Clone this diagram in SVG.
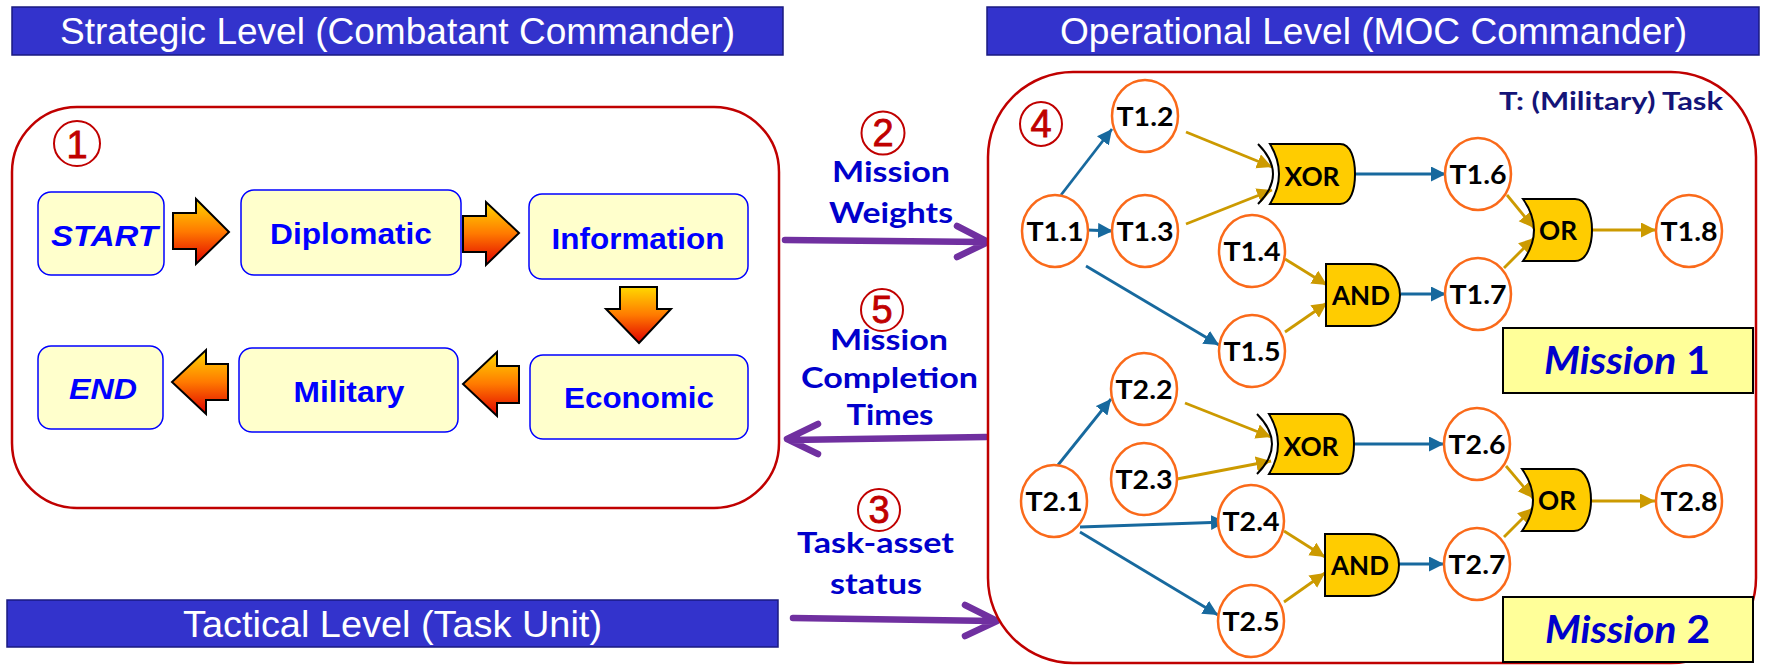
<svg xmlns="http://www.w3.org/2000/svg" width="1769" height="665" viewBox="0 0 1769 665">
  <style>
    .hdr { fill: #3333CC; stroke: #1A1A80; stroke-width: 1.5; }
    .hdr-t { font-family: "Liberation Sans", Arial, sans-serif; font-size: 37px; fill: #FFFFFF; }
    .frame { fill: #FFFFFF; stroke: #C00000; stroke-width: 2.5; }
    .step { fill: #FFFFCC; stroke: #0000FF; stroke-width: 1.5; }
    .step-t { font-family: "Liberation Sans", Arial, sans-serif; font-size: 30px; font-weight: bold; fill: #0000FF; text-anchor: middle; }
    .flow { fill: url(#flowGrad); stroke: #000000; stroke-width: 2; stroke-linejoin: miter; }
    .num-c { fill: none; stroke: #C00000; stroke-width: 2; }
    .num-t { font-family: "Liberation Sans", Arial, sans-serif; font-size: 38px; fill: #C00000; stroke: #C00000; stroke-width: 0.8; text-anchor: middle; }
    .lbl { font-family: Lato, "Open Sans", sans-serif; font-size: 28px; font-weight: bold; fill: #0000CC; text-anchor: middle; }
    .xfer { fill: none; stroke: #7030A0; stroke-width: 6.5; stroke-linecap: round; stroke-linejoin: round; }
    .task { fill: #FFFFFF; stroke: #FA6A1A; stroke-width: 2.5; }
    .task-t { font-family: Lato, "Open Sans", sans-serif; font-size: 26px; font-weight: bold; fill: #000000; text-anchor: middle; }
    .gate { fill: #FFCC00; stroke: #000000; stroke-width: 2; }
    .gate-t { font-family: Lato, "Open Sans", sans-serif; font-size: 27px; font-weight: bold; fill: #000000; text-anchor: middle; }
    .seq { stroke: #17699E; stroke-width: 2.8; fill: none; marker-end: url(#headBlue); }
    .dep { stroke: #CC9A00; stroke-width: 2.8; fill: none; marker-end: url(#headGold); }
    .mbox { fill: #FFFF99; stroke: #000000; stroke-width: 2; }
    .mbox-t { font-family: Lato, "Open Sans", sans-serif; font-size: 38px; font-weight: bold; fill: #0000CC; }
  </style>
  <defs>
    <linearGradient id="flowGrad" x1="0" y1="0" x2="0" y2="1">
      <stop offset="0" stop-color="#FFD800"/>
      <stop offset="0.5" stop-color="#FF7A00"/>
      <stop offset="1" stop-color="#E00000"/>
    </linearGradient>
    <marker id="headBlue" markerUnits="userSpaceOnUse" markerWidth="16" markerHeight="16" refX="15" refY="7.5" orient="auto">
      <path d="M0,0 L15,7.5 L0,15 Z" fill="#17699E"/>
    </marker>
    <marker id="headGold" markerUnits="userSpaceOnUse" markerWidth="16" markerHeight="16" refX="15" refY="7.5" orient="auto">
      <path d="M0,0 L15,7.5 L0,15 Z" fill="#CC9A00"/>
    </marker>
    <!-- gate outlines, origin at top-left of the body -->
    <g id="xorGate">
      <path class="gate" d="M12,0 L82,0 C93,0 97,15 97,30 C97,45 93,60 82,60 L12,60 Q30,30 12,0 Z"/>
      <path d="M0,0 Q30,30 0,60" fill="none" stroke="#000000" stroke-width="2"/>
    </g>
    <path id="orGate" class="gate" d="M0,0 L52,0 C64,0 69,16 69,31 C69,46 64,62 52,62 L0,62 Q22,31 0,0 Z"/>
    <path id="andGate" class="gate" d="M0,0 L44,0 A30,31 0 0 1 44,62 L0,62 Z"/>
  </defs>

  <rect width="1769" height="665" fill="#FFFFFF"/>

  <!-- level banners -->
  <g id="banner-strategic">
    <rect class="hdr" x="12" y="7" width="771" height="48"/>
    <text class="hdr-t" x="60" y="44" textLength="675" lengthAdjust="spacingAndGlyphs">Strategic Level (Combatant Commander)</text>
  </g>
  <g id="banner-operational">
    <rect class="hdr" x="987" y="7" width="772" height="48"/>
    <text class="hdr-t" x="1060" y="44" textLength="627" lengthAdjust="spacingAndGlyphs">Operational Level (MOC Commander)</text>
  </g>
  <g id="banner-tactical">
    <rect class="hdr" x="7" y="600" width="771" height="47"/>
    <text class="hdr-t" x="183" y="637" textLength="419" lengthAdjust="spacingAndGlyphs">Tactical Level (Task Unit)</text>
  </g>

  <!-- strategic sequence -->
  <g id="strategic-frame">
    <rect class="frame" x="12" y="107" width="767" height="401" rx="65" ry="65"/>
    <ellipse class="num-c" cx="77" cy="143.5" rx="23" ry="22.5"/>
    <text class="num-t" x="77" y="158" font-size="41">1</text>
  </g>

  <g id="step-start">
    <rect class="step" x="38" y="192" width="126" height="83" rx="13"/>
    <text class="step-t" x="104.5" y="246" font-style="italic" textLength="107" lengthAdjust="spacingAndGlyphs">START</text>
  </g>
  <g id="step-diplomatic">
    <rect class="step" x="241" y="190" width="220" height="85" rx="13"/>
    <text class="step-t" x="351" y="244" textLength="162" lengthAdjust="spacingAndGlyphs">Diplomatic</text>
  </g>
  <g id="step-information">
    <rect class="step" x="529" y="194" width="219" height="85" rx="13"/>
    <text class="step-t" x="638" y="249" textLength="173" lengthAdjust="spacingAndGlyphs">Information</text>
  </g>
  <g id="step-economic">
    <rect class="step" x="530" y="355" width="218" height="84" rx="13"/>
    <text class="step-t" x="639" y="408" textLength="150" lengthAdjust="spacingAndGlyphs">Economic</text>
  </g>
  <g id="step-military">
    <rect class="step" x="239" y="348" width="219" height="84" rx="13"/>
    <text class="step-t" x="349" y="402" textLength="111" lengthAdjust="spacingAndGlyphs">Military</text>
  </g>
  <g id="step-end">
    <rect class="step" x="38" y="346" width="125" height="83" rx="13"/>
    <text class="step-t" x="103" y="399" font-style="italic" textLength="68" lengthAdjust="spacingAndGlyphs">END</text>
  </g>

  <!-- block arrows between the steps -->
  <g id="step-flow">
    <path class="flow" d="M173,213 L196,213 L196,199 L229,232 L196,264 L196,249 L173,249 Z"/>
    <path class="flow" d="M463,216 L486,216 L486,202 L519,233 L486,265 L486,252 L463,252 Z"/>
    <path class="flow" d="M620,287 L657,287 L657,309 L671,309 L639,343 L606,309 L620,309 Z"/>
    <path class="flow" d="M519,366 L497,366 L497,352 L463,384 L497,416 L497,403 L519,403 Z"/>
    <path class="flow" d="M228,364 L206,364 L206,350 L172,382 L206,414 L206,400 L228,400 Z"/>
  </g>

  <!-- exchanges between levels -->
  <g id="exchanges">
    <path class="xfer" d="M785,240 L985,242 M957,226 L988,242 L957,257"/>
    <path class="xfer" d="M986,437 L790,440 M818,424 L787,439 L818,454"/>
    <path class="xfer" d="M793,618 L994,621 M965,605 L997,621 L965,636"/>
  </g>
  <g id="label-weights">
    <circle class="num-c" cx="883" cy="133" r="21.5"/>
    <text class="num-t" x="883" y="146">2</text>
    <text class="lbl" x="891" y="182" textLength="118" lengthAdjust="spacingAndGlyphs">Mission</text>
    <text class="lbl" x="891" y="223" textLength="124" lengthAdjust="spacingAndGlyphs">Weights</text>
  </g>
  <g id="label-completion">
    <circle class="num-c" cx="882" cy="310" r="21"/>
    <text class="num-t" x="882" y="323">5</text>
    <text class="lbl" x="889" y="350" textLength="118" lengthAdjust="spacingAndGlyphs">Mission</text>
    <text class="lbl" x="889.5" y="388" textLength="177" lengthAdjust="spacingAndGlyphs">Completion</text>
    <text class="lbl" x="890" y="425" textLength="87" lengthAdjust="spacingAndGlyphs">Times</text>
  </g>
  <g id="label-status">
    <circle class="num-c" cx="879" cy="510" r="21"/>
    <text class="num-t" x="879" y="523">3</text>
    <text class="lbl" x="875.5" y="552.5" textLength="157" lengthAdjust="spacingAndGlyphs">Task-asset</text>
    <text class="lbl" x="876" y="593.5" textLength="92" lengthAdjust="spacingAndGlyphs">status</text>
  </g>

  <!-- operational mission graphs -->
  <g id="operational-frame">
    <rect class="frame" x="988" y="72" width="768" height="591" rx="85" ry="85"/>
    <ellipse class="num-c" cx="1041" cy="124" rx="21" ry="22"/>
    <text class="num-t" x="1041" y="137">4</text>
    <text x="1499" y="110" font-family="Lato, 'Open Sans', sans-serif" font-size="25" font-weight="bold" fill="#141478" textLength="224" lengthAdjust="spacingAndGlyphs">T: (Military) Task</text>
  </g>

  <g id="connectors">
    <!-- mission 1 -->
    <line class="seq" x1="1061" y1="195" x2="1112" y2="129"/>
    <line class="seq" x1="1087" y1="230" x2="1113" y2="231"/>
    <line class="seq" x1="1086" y1="266" x2="1219" y2="345"/>
    <line class="seq" x1="1340" y1="174" x2="1446" y2="174"/>
    <line class="seq" x1="1401" y1="294" x2="1446" y2="294"/>
    <line class="dep" x1="1186" y1="132" x2="1272" y2="167"/>
    <line class="dep" x1="1186" y1="224" x2="1272" y2="190"/>
    <line class="dep" x1="1285" y1="259" x2="1327" y2="285"/>
    <line class="dep" x1="1285" y1="332" x2="1327" y2="303"/>
    <line class="dep" x1="1507" y1="195" x2="1534" y2="228"/>
    <line class="dep" x1="1504" y1="268" x2="1534" y2="238"/>
    <line class="dep" x1="1592" y1="230" x2="1656" y2="230"/>
    <!-- mission 2 -->
    <line class="seq" x1="1058" y1="465" x2="1111" y2="399"/>
    <line class="seq" x1="1080" y1="527" x2="1226" y2="522"/>
    <line class="seq" x1="1080" y1="532" x2="1218" y2="615"/>
    <line class="seq" x1="1340" y1="444" x2="1444" y2="444"/>
    <line class="seq" x1="1399" y1="564" x2="1444" y2="564"/>
    <line class="dep" x1="1185" y1="403" x2="1271" y2="437"/>
    <line class="dep" x1="1177" y1="479" x2="1271" y2="461"/>
    <line class="dep" x1="1284" y1="531" x2="1325" y2="557"/>
    <line class="dep" x1="1284" y1="602" x2="1325" y2="573"/>
    <line class="dep" x1="1506" y1="466" x2="1533" y2="498"/>
    <line class="dep" x1="1504" y1="537" x2="1533" y2="508"/>
    <line class="dep" x1="1591" y1="501" x2="1655" y2="501"/>
  </g>

  <!-- mission 1 tasks and gates -->
  <g id="t1-1"><ellipse class="task" cx="1055" cy="231" rx="33" ry="36"/><text class="task-t" x="1055" y="240.5" textLength="57" lengthAdjust="spacingAndGlyphs">T1.1</text></g>
  <g id="t1-2"><ellipse class="task" cx="1145" cy="116" rx="33" ry="36"/><text class="task-t" x="1145" y="125.5" textLength="57" lengthAdjust="spacingAndGlyphs">T1.2</text></g>
  <g id="t1-3"><ellipse class="task" cx="1145" cy="231" rx="33" ry="36"/><text class="task-t" x="1145" y="240.5" textLength="57" lengthAdjust="spacingAndGlyphs">T1.3</text></g>
  <g id="t1-4"><ellipse class="task" cx="1252" cy="251" rx="33" ry="36"/><text class="task-t" x="1252" y="260.5" textLength="57" lengthAdjust="spacingAndGlyphs">T1.4</text></g>
  <g id="t1-5"><ellipse class="task" cx="1252" cy="351" rx="33" ry="36"/><text class="task-t" x="1252" y="360.5" textLength="57" lengthAdjust="spacingAndGlyphs">T1.5</text></g>
  <g id="t1-6"><ellipse class="task" cx="1478" cy="174" rx="33" ry="36"/><text class="task-t" x="1478" y="183.5" textLength="57" lengthAdjust="spacingAndGlyphs">T1.6</text></g>
  <g id="t1-7"><ellipse class="task" cx="1478" cy="294" rx="33" ry="36"/><text class="task-t" x="1478" y="303.5" textLength="57" lengthAdjust="spacingAndGlyphs">T1.7</text></g>
  <g id="t1-8"><ellipse class="task" cx="1689" cy="231" rx="33" ry="36"/><text class="task-t" x="1689" y="240.5" textLength="57" lengthAdjust="spacingAndGlyphs">T1.8</text></g>
  <g id="xor-1"><use href="#xorGate" x="1258" y="144"/><text class="gate-t" x="1312" y="186" textLength="55" lengthAdjust="spacingAndGlyphs">XOR</text></g>
  <g id="and-1"><use href="#andGate" x="1326" y="264"/><text class="gate-t" x="1361" y="305" textLength="58" lengthAdjust="spacingAndGlyphs">AND</text></g>
  <g id="or-1"><use href="#orGate" x="1523" y="199"/><text class="gate-t" x="1558" y="240" textLength="38" lengthAdjust="spacingAndGlyphs">OR</text></g>
  <g id="mission-1">
    <rect class="mbox" x="1503" y="328" width="250" height="65"/>
    <text class="mbox-t" x="1544" y="374" textLength="166" lengthAdjust="spacingAndGlyphs"><tspan font-style="italic">Mission</tspan> 1</text>
  </g>

  <!-- mission 2 tasks and gates -->
  <g id="t2-1"><ellipse class="task" cx="1054" cy="501" rx="33" ry="36"/><text class="task-t" x="1054" y="510.5" textLength="57" lengthAdjust="spacingAndGlyphs">T2.1</text></g>
  <g id="t2-2"><ellipse class="task" cx="1144" cy="389" rx="33" ry="36"/><text class="task-t" x="1144" y="398.5" textLength="57" lengthAdjust="spacingAndGlyphs">T2.2</text></g>
  <g id="t2-3"><ellipse class="task" cx="1144" cy="479" rx="33" ry="36"/><text class="task-t" x="1144" y="488.5" textLength="57" lengthAdjust="spacingAndGlyphs">T2.3</text></g>
  <g id="t2-4"><ellipse class="task" cx="1251" cy="521" rx="33" ry="36"/><text class="task-t" x="1251" y="530.5" textLength="57" lengthAdjust="spacingAndGlyphs">T2.4</text></g>
  <g id="t2-5"><ellipse class="task" cx="1251" cy="621" rx="33" ry="36"/><text class="task-t" x="1251" y="630.5" textLength="57" lengthAdjust="spacingAndGlyphs">T2.5</text></g>
  <g id="t2-6"><ellipse class="task" cx="1477" cy="444" rx="33" ry="36"/><text class="task-t" x="1477" y="453.5" textLength="57" lengthAdjust="spacingAndGlyphs">T2.6</text></g>
  <g id="t2-7"><ellipse class="task" cx="1477" cy="564" rx="33" ry="36"/><text class="task-t" x="1477" y="573.5" textLength="57" lengthAdjust="spacingAndGlyphs">T2.7</text></g>
  <g id="t2-8"><ellipse class="task" cx="1689" cy="501" rx="33" ry="36"/><text class="task-t" x="1689" y="510.5" textLength="57" lengthAdjust="spacingAndGlyphs">T2.8</text></g>
  <g id="xor-2"><use href="#xorGate" x="1257" y="414"/><text class="gate-t" x="1311" y="456" textLength="55" lengthAdjust="spacingAndGlyphs">XOR</text></g>
  <g id="and-2"><use href="#andGate" x="1325" y="534"/><text class="gate-t" x="1360" y="575" textLength="58" lengthAdjust="spacingAndGlyphs">AND</text></g>
  <g id="or-2"><use href="#orGate" x="1522" y="469"/><text class="gate-t" x="1557" y="510" textLength="38" lengthAdjust="spacingAndGlyphs">OR</text></g>
  <g id="mission-2">
    <rect class="mbox" x="1503" y="597" width="250" height="65"/>
    <text class="mbox-t" x="1545" y="643" textLength="165" lengthAdjust="spacingAndGlyphs"><tspan font-style="italic">Mission</tspan> 2</text>
  </g>
</svg>
